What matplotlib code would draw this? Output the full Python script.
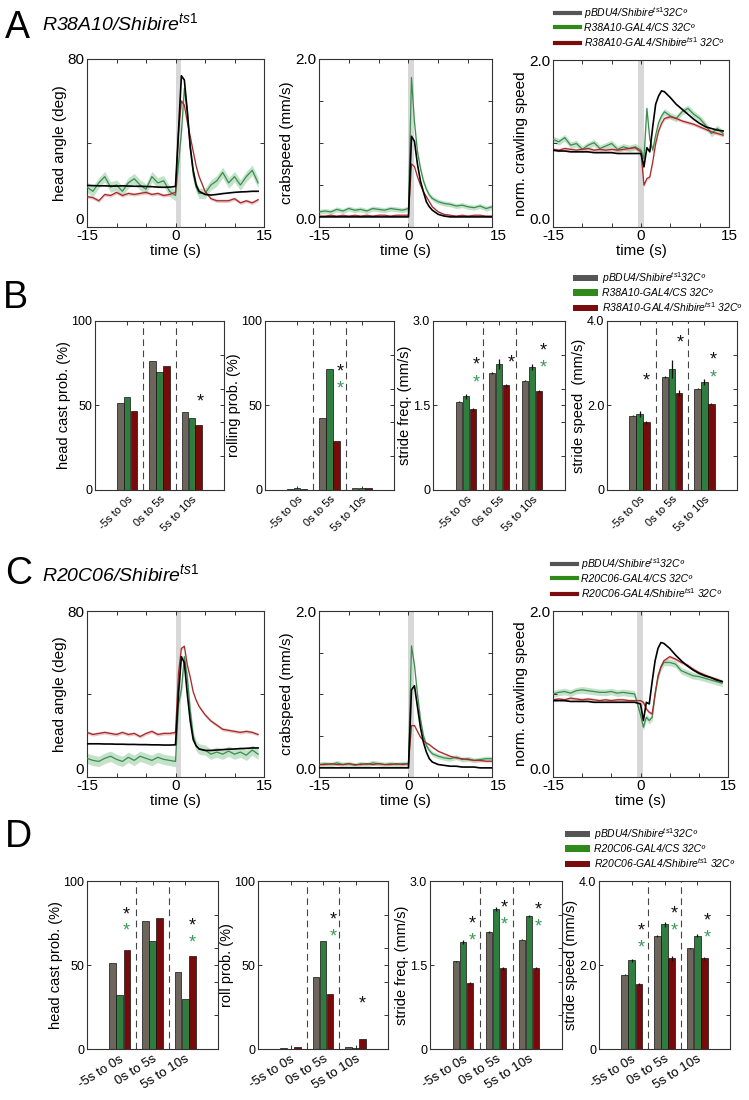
import matplotlib
matplotlib.use("Agg")
import matplotlib.pyplot as plt
from matplotlib.lines import Line2D
from matplotlib.patches import Patch
import numpy as np

plt.rcParams['font.family'] = ['Liberation Sans', 'DejaVu Sans']
plt.rcParams['mathtext.fontset'] = 'custom'
plt.rcParams['mathtext.rm'] = 'Liberation Sans'
plt.rcParams['mathtext.it'] = 'Liberation Sans:italic'
plt.rcParams['mathtext.sf'] = 'Liberation Sans'

# ---------------- data ----------------
T = [-15, -14, -13, -12, -11, -10, -9, -8, -7, -6, -5, -4, -3, -2, -1, 0,
     0.5, 1, 1.5, 2, 2.5, 3, 3.5, 4, 5, 6, 7, 8, 9, 10, 11, 12, 13, 14]

A_head_black = [19.8, 19.7, 19.6, 19.6, 19.5, 19.5, 19.6, 19.5, 19.4, 19.4, 19.3, 19.2, 19.0, 18.9, 19.0, 19.3,
                45, 72, 70, 55, 38, 27, 20, 17, 15.5, 15.2, 15.5, 15.9, 16.2, 16.5, 16.7, 16.8, 17.0, 17.0]
A_head_green = [19, 17, 21, 24, 19, 20, 17, 21, 23, 20, 18, 24, 21, 22, 17, 15,
                30, 45, 66, 55, 38, 25, 19, 16, 16, 20, 22, 26, 21, 24, 20, 24, 27, 21]
A_head_red = [14.5, 14, 12.5, 15.5, 15, 16.5, 15, 16, 15.5, 16, 16.5, 15.5, 16, 15, 15.5, 16.5,
              45, 60, 58, 50, 43, 36, 29, 24, 17, 13.5, 12.5, 12.5, 12.5, 13.5, 11.5, 12.5, 11.5, 13]

A_crab_black = [0.12] * 16 + [1.08, 1.02, 0.75, 0.55, 0.42, 0.30, 0.24, 0.20,
                              0.15, 0.13, 0.12, 0.12, 0.12, 0.12, 0.12, 0.12, 0.12, 0.12]
A_crab_green = [0.18, 0.19, 0.18, 0.21, 0.19, 0.22, 0.20, 0.21, 0.19, 0.22, 0.21, 0.20, 0.22, 0.21, 0.20, 0.22,
                1.78, 1.25, 0.90, 0.70, 0.55, 0.45, 0.38, 0.34, 0.30, 0.28, 0.27, 0.25, 0.26, 0.24, 0.23, 0.25, 0.22, 0.24]
A_crab_red = [0.13, 0.13, 0.14, 0.13, 0.14, 0.13, 0.14, 0.13, 0.14, 0.13, 0.14, 0.14, 0.13, 0.14, 0.14, 0.14,
              0.75, 0.72, 0.60, 0.50, 0.42, 0.36, 0.30, 0.24, 0.18, 0.15, 0.14, 0.13, 0.14, 0.13, 0.14, 0.14, 0.13, 0.13]

A_crawl_black = [0.92, 0.91, 0.91, 0.90, 0.90, 0.90, 0.90, 0.89, 0.89, 0.89, 0.89, 0.88, 0.88, 0.88, 0.88, 0.88,
                 0.72, 0.95, 0.90, 1.20, 1.47, 1.57, 1.63, 1.62, 1.55, 1.47, 1.41, 1.35, 1.29, 1.24, 1.20, 1.18, 1.16, 1.15]
A_crawl_green = [1.05, 1.02, 1.07, 0.98, 1.00, 0.93, 0.98, 1.01, 0.94, 0.97, 1.00, 0.93, 0.96, 0.94, 0.96, 0.92,
                 0.82, 1.42, 1.05, 0.92, 1.10, 1.25, 1.33, 1.38, 1.33, 1.30, 1.38, 1.42, 1.35, 1.30, 1.22, 1.12, 1.18, 1.12]
A_crawl_red = [0.93, 0.92, 0.94, 0.93, 0.92, 0.93, 0.94, 0.92, 0.93, 0.92, 0.93, 0.92, 0.93, 0.94, 0.95, 0.90,
               0.50, 0.58, 0.60, 0.78, 1.00, 1.15, 1.24, 1.30, 1.32, 1.30, 1.27, 1.25, 1.23, 1.20, 1.17, 1.14, 1.12, 1.10]

C_head_black = [16, 16, 16, 15.9, 15.9, 15.8, 15.8, 15.7, 15.7, 15.6, 15.6, 15.5, 15.5, 15.4, 15.4, 15.5,
                40, 58, 55, 40, 27, 18, 15, 13.5, 12.8, 12.8, 13, 13.2, 13.4, 13.5, 13.7, 13.8, 14, 14]
C_head_green = [9, 8, 7.5, 9, 10, 8.5, 7.5, 9.5, 8, 10, 9, 8, 9.5, 8.5, 8, 7.5,
                35, 42, 58, 48, 32, 20, 15, 13.5, 13, 11, 12, 11, 12.5, 11, 12, 10.5, 13, 11]
C_head_red = [21.5, 20.5, 21, 21.5, 21, 20.5, 21.5, 20.5, 21, 19.5, 21, 22, 20.5, 21, 21, 21.5,
              50, 62, 63, 54, 48, 41, 37, 34, 30, 27, 25, 23, 22.5, 22, 21.5, 22, 21.5, 20.5]

C_crab_black = [0.11] * 16 + [1.05, 1.10, 0.85, 0.60, 0.42, 0.30, 0.22, 0.18,
                              0.15, 0.14, 0.13, 0.13, 0.12, 0.12, 0.12, 0.11, 0.11, 0.11]
C_crab_green = [0.15, 0.16, 0.15, 0.17, 0.15, 0.16, 0.14, 0.16, 0.15, 0.17, 0.16, 0.15, 0.16, 0.15, 0.16, 0.16,
                1.58, 1.35, 1.00, 0.70, 0.50, 0.38, 0.32, 0.28, 0.25, 0.23, 0.22, 0.24, 0.21, 0.22, 0.20, 0.21, 0.22, 0.22]
C_crab_red = [0.15, 0.15, 0.16, 0.15, 0.15, 0.16, 0.15, 0.15, 0.16, 0.15, 0.16, 0.15, 0.15, 0.16, 0.15, 0.16,
              0.62, 0.62, 0.55, 0.48, 0.44, 0.41, 0.39, 0.36, 0.31, 0.28, 0.25, 0.23, 0.22, 0.21, 0.20, 0.20, 0.19, 0.19]

C_crawl_black = [0.92, 0.92, 0.92, 0.91, 0.91, 0.91, 0.91, 0.90, 0.90, 0.90, 0.90, 0.90, 0.90, 0.90, 0.90, 0.88,
                 0.68, 0.90, 0.88, 1.15, 1.40, 1.55, 1.62, 1.61, 1.55, 1.47, 1.40, 1.34, 1.29, 1.25, 1.22, 1.20, 1.17, 1.15]
C_crawl_green = [1.00, 1.02, 1.03, 1.01, 1.04, 1.05, 1.04, 1.03, 1.02, 1.02, 1.03, 1.01, 1.02, 1.01, 1.00, 0.75,
                 0.60, 0.72, 0.68, 0.72, 1.00, 1.20, 1.32, 1.38, 1.38, 1.36, 1.28, 1.25, 1.22, 1.21, 1.19, 1.17, 1.15, 1.13]
C_crawl_red = [0.93, 0.94, 0.93, 0.95, 0.94, 0.93, 0.94, 0.93, 0.92, 0.93, 0.92, 0.93, 0.93, 0.92, 0.92, 0.92,
               0.90, 0.82, 0.78, 0.76, 1.00, 1.22, 1.33, 1.40, 1.45, 1.42, 1.38, 1.35, 1.30, 1.26, 1.23, 1.20, 1.18, 1.15]

# standard-error half widths (shaded bands)
SEM_head = {'green': 2.5, 'red': 0.8}
SEM_crab = {'green': 0.03, 'red': 0.012}
SEM_crawl = {'green': 0.04, 'red': 0.02}

WINDOWS = ['-5s to 0s', '0s to 5s', '5s to 10s']

B_head = {'grey': [51.3, 76.3, 46.0], 'green': [54.8, 70.0, 42.4], 'red': [46.7, 73.4, 38.5]}
B_roll = {'grey': [0.5, 42.8, 1.0], 'green': [1.0, 71.4, 1.2], 'red': [0.8, 29.2, 1.3]}
B_freq = {'grey': [1.57, 2.08, 1.94], 'green': [1.66, 2.24, 2.18], 'red': [1.43, 1.86, 1.76]}
B_freq_err = {'grey': [0.01, 0.02, 0.01], 'green': [0.05, 0.09, 0.05], 'red': [0.02, 0.03, 0.02]}
B_speed = {'grey': [1.76, 2.68, 2.40], 'green': [1.80, 2.86, 2.56], 'red': [1.60, 2.30, 2.04]}
B_speed_err = {'grey': [0.02, 0.02, 0.02], 'green': [0.08, 0.22, 0.07], 'red': [0.03, 0.07, 0.02]}

D_head = {'grey': [51.0, 76.2, 46.1], 'green': [32.3, 64.0, 29.9], 'red': [59.0, 77.8, 55.4]}
D_roll = {'grey': [0.3, 42.8, 1.0], 'green': [0.0, 64.0, 0.7], 'red': [1.0, 32.9, 6.1]}
D_freq = {'grey': [1.57, 2.09, 1.95], 'green': [1.91, 2.50, 2.38], 'red': [1.18, 1.44, 1.44]}
D_freq_err = {'grey': [0.01, 0.01, 0.01], 'green': [0.03, 0.04, 0.02], 'red': [0.02, 0.03, 0.02]}
D_speed = {'grey': [1.77, 2.69, 2.40], 'green': [2.11, 2.97, 2.70], 'red': [1.55, 2.16, 2.16]}
D_speed_err = {'grey': [0.01, 0.02, 0.01], 'green': [0.04, 0.06, 0.03], 'red': [0.02, 0.06, 0.03]}

# significance stars (x, y, colour key)
B_head_stars = [(3.26, 52, 'k')]
B_roll_stars = [(2.33, 70, 'k'), (2.33, 60, 'g')]
B_freq_stars = [(1.30, 2.22, 'k'), (1.30, 1.90, 'g'), (2.38, 2.25, 'k'), (3.34, 2.47, 'k'), (3.34, 2.16, 'g')]
B_speed_stars = [(1.21, 2.58, 'k'), (2.24, 3.47, 'k'), (3.27, 3.08, 'k'), (3.27, 2.65, 'g')]
D_head_stars = [(1.20, 80, 'k'), (1.20, 70, 'g'), (3.20, 73, 'k'), (3.20, 63, 'g')]
D_roll_stars = [(2.31, 76.8, 'k'), (2.31, 66.5, 'g'), (3.22, 26.7, 'k')]
D_freq_stars = [(1.29, 2.23, 'k'), (1.29, 1.93, 'g'), (2.26, 2.51, 'k'), (2.26, 2.21, 'g'),
                (3.29, 2.48, 'k'), (3.29, 2.17, 'g')]
D_speed_stars = [(1.30, 2.80, 'k'), (1.30, 2.40, 'g'), (2.29, 3.22, 'k'), (2.29, 2.82, 'g'),
                 (3.31, 3.05, 'k'), (3.31, 2.64, 'g')]

LEG_A = [r'pBDU4/Shibire$^{ts1}$32Cº', 'R38A10-GAL4/CS 32Cº', r'R38A10-GAL4/Shibire$^{ts1}$ 32Cº']
LEG_C = [r'pBDU4/Shibire$^{ts1}$32Cº', 'R20C06-GAL4/CS 32Cº', r'R20C06-GAL4/Shibire$^{ts1}$ 32Cº']

# ---------------- styles ----------------
W, H = 749, 1100
LINE_COL = {'black': '#000000', 'green': '#3a8d4e', 'red': '#a32a2a'}
BAND_COL = {'green': '#9ccfa6', 'red': '#e0a0a0'}
BAR_COL = {'grey': '#6e655c', 'green': '#2f7d3f', 'red': '#7a0a0a'}
STAR_COL = {'k': '#111111', 'g': '#3a9a5a'}
LEG_COL = ['#555555', '#2f8a1a', '#7a0c0c']
SPINE = '#333333'

fig = plt.figure(figsize=(W / 100, H / 100), dpi=100)


def add_ax(l, t, r, b):
    return fig.add_axes([l / W, 1 - b / H, (r - l) / W, (b - t) / H])


def style_ax(ax, fs):
    for s in ax.spines.values():
        s.set_color(SPINE)
        s.set_linewidth(0.8)
    ax.tick_params(which='both', direction='in', top=True, right=True, length=3,
                   width=0.7, color=SPINE, labelsize=fs, pad=2)


def line_panel(box, series, sems, ylim, ylab_ticks, yminor, ylabel, shade, xlim=(-15, 15)):
    ax = add_ax(*box)
    ax.axvspan(shade[0], shade[1], color='#d8d8d8', lw=0, zorder=0)
    order = ['green', 'red', 'black']
    for key in order:
        y = np.array(series[key])
        if key in sems:
            ax.fill_between(T, y - sems[key], y + sems[key], color=BAND_COL[key], alpha=0.6, lw=0, zorder=1)
    for key in order:
        lw = 1.2 if key == 'black' else 0.9
        ax.plot(T, series[key], color=LINE_COL[key], lw=lw, zorder=3)
    ax.set_xlim(*xlim)
    ax.set_ylim(*ylim)
    xt = [v for v in [-15, 0, 15] if xlim[0] <= v <= xlim[1]]
    ax.set_xticks(xt)
    ax.set_xticklabels([str(v) for v in xt])
    ax.set_xticks([v for v in [-10, -5, 5, 10] if xlim[0] <= v <= xlim[1]], minor=True)
    ax.set_yticks([v for v, _ in ylab_ticks])
    ax.set_yticklabels([s for _, s in ylab_ticks])
    ax.set_yticks(yminor, minor=True)
    style_ax(ax, 11)
    ax.tick_params(axis='x', pad=1.5)
    ax.get_yticklabels()[0].set_verticalalignment('bottom')
    if xlim[1] < 15:
        ax.text(15, -0.012, '15', transform=ax.get_xaxis_transform(), ha='center', va='top', fontsize=11)
    ax.set_xlabel('time (s)', fontsize=11, labelpad=1)
    ax.set_ylabel(ylabel, fontsize=11, labelpad=0.5)
    return ax


def bar_panel(box, vals, ylim, ylab_ticks, yminor, ylabel, stars, errs=None, rot=45, xfs=8):
    ax = add_ax(*box)
    x = np.array([1, 2, 3])
    offs = {'grey': -0.215, 'green': 0.0, 'red': 0.215}
    for key in ['grey', 'green', 'red']:
        kw = {}
        if errs is not None:
            kw = dict(yerr=errs[key], error_kw=dict(ecolor='#111111', elinewidth=0.9, capsize=0))
        ax.bar(x + offs[key], vals[key], width=0.2, color=BAR_COL[key], edgecolor='#111111',
               linewidth=0.5, zorder=2, **kw)
    for xv in [1.5, 2.5]:
        ax.axvline(xv, color='#444444', lw=0.8, dashes=(6, 4), zorder=1)
    for sx, sy, c in stars:
        ax.text(sx, sy, '*', color=STAR_COL[c], fontsize=13, ha='center', va='center', zorder=4)
    ax.set_xlim(0, 4)
    ax.set_ylim(*ylim)
    ax.set_xticks(x)
    ax.set_xticklabels(WINDOWS, rotation=rot, ha='right', rotation_mode='anchor')
    ax.set_yticks([v for v, _ in ylab_ticks])
    ax.set_yticklabels([s for _, s in ylab_ticks])
    ax.set_yticks(yminor, minor=True)
    style_ax(ax, 9)
    ax.tick_params(which='minor', left=False, right=True)
    ax.tick_params(axis='x', pad=3, labelsize=xfs)
    ax.set_ylabel(ylabel, fontsize=10.5, labelpad=0.5)
    return ax


def legend(x, y, labels, patches=False):
    if patches:
        handles = [Patch(facecolor=c, edgecolor='none') for c in LEG_COL]
        hh = 0.6
    else:
        handles = [Line2D([], [], color=c, lw=3) for c in LEG_COL]
        hh = 0.7
    fig.legend(handles, labels, loc='upper left', bbox_to_anchor=(x / W, 1 - y / H),
               frameon=False, prop={'style': 'italic', 'size': 7.5}, handlelength=2.4,
               handleheight=hh, handletextpad=0.4, labelspacing=0.2, borderpad=0, borderaxespad=0)


# ---------------- panel A ----------------
fig.text(5 / W, 1 - 38 / H, 'A', fontsize=27, va='baseline')
fig.text(42 / W, 1 - 30 / H, r'R38A10/Shibire$^{ts1}$', fontsize=14, style='italic', va='baseline')
line_panel((87, 59, 264, 227), {'black': A_head_black, 'green': A_head_green, 'red': A_head_red},
           SEM_head, (0, 80), [(0, '0'), (80, '80')], [40], 'head angle (deg)', (0, 1))
line_panel((319, 59, 492, 227), {'black': A_crab_black, 'green': A_crab_green, 'red': A_crab_red},
           SEM_crab, (0, 2), [(0, '0.0'), (2, '2.0')], [0.5, 1.0, 1.5], 'crabspeed (mm/s)', (0, 1),
           xlim=(-15, 14))
line_panel((553, 60, 729, 227), {'black': A_crawl_black, 'green': A_crawl_green, 'red': A_crawl_red},
           SEM_crawl, (0, 2), [(0, '0.0'), (2, '2.0')], [1.0], 'norm. crawling speed', (-0.55, 0.45))
legend(555, 5, LEG_A)

# ---------------- panel B ----------------
fig.text(3 / W, 1 - 308 / H, 'B', fontsize=27, va='baseline')
bar_panel((95, 321, 224, 490), B_head, (0, 100), [(0, '0'), (50, '50'), (100, '100')],
          [20, 40, 60, 80], 'head cast prob. (%)', B_head_stars)
bar_panel((265, 321, 394, 490), B_roll, (0, 100), [(0, '0'), (50, '50'), (100, '100')],
          [20, 40, 60, 80], 'rolling prob. (%)', B_roll_stars)
bar_panel((433, 321, 565, 490), B_freq, (0, 3), [(0, '0'), (1.5, '1.5'), (3, '3.0')],
          [0.6, 1.2, 1.8, 2.4], 'stride freq. (mm/s)', B_freq_stars, B_freq_err)
bar_panel((607, 321, 737, 490), B_speed, (0, 4), [(0, '0'), (2, '2.0'), (4, '4.0')],
          [0.8, 1.6, 2.4, 3.2], 'stride speed  (mm/s)', B_speed_stars, B_speed_err)
legend(573, 270, LEG_A, patches=True)

# ---------------- panel C ----------------
fig.text(5 / W, 1 - 584 / H, 'C', fontsize=27, va='baseline')
fig.text(42 / W, 1 - 581 / H, r'R20C06/Shibire$^{ts1}$', fontsize=14, style='italic', va='baseline')
line_panel((87, 611, 264, 777), {'black': C_head_black, 'green': C_head_green, 'red': C_head_red},
           SEM_head, (0, 80), [(0, '0'), (80, '80')], [40], 'head angle (deg)', (0, 1))
line_panel((319, 611, 492, 777), {'black': C_crab_black, 'green': C_crab_green, 'red': C_crab_red},
           SEM_crab, (0, 2), [(0, '0.0'), (2, '2.0')], [0.5, 1.0, 1.5], 'crabspeed (mm/s)', (0, 1),
           xlim=(-15, 14))
line_panel((553, 611, 728, 777), {'black': C_crawl_black, 'green': C_crawl_green, 'red': C_crawl_red},
           SEM_crawl, (0, 2), [(0, '0.0'), (2, '2.0')], [1.0], 'norm. crawling speed', (-0.55, 0.45))
legend(552, 556, LEG_C)

# ---------------- panel D ----------------
fig.text(5 / W, 1 - 847 / H, 'D', fontsize=27, va='baseline')
bar_panel((87, 881, 218, 1049), D_head, (0, 100), [(0, '0'), (50, '50'), (100, '100')],
          [20, 40, 60, 80], 'head cast prob. (%)', D_head_stars, rot=32, xfs=9.5)
bar_panel((258, 881, 388, 1049), D_roll, (0, 100), [(0, '0'), (50, '50'), (100, '100')],
          [20, 40, 60, 80], 'roll prob. (%)', D_roll_stars, rot=32, xfs=9.5)
bar_panel((430, 881, 562, 1049), D_freq, (0, 3), [(0, '0'), (1.5, '1.5'), (3, '3.0')],
          [0.6, 1.2, 1.8, 2.4], 'stride freq. (mm/s)', D_freq_stars, D_freq_err, rot=32, xfs=9.5)
bar_panel((599, 881, 730, 1049), D_speed, (0, 4), [(0, '0'), (2, '2.0'), (4, '4.0')],
          [0.8, 1.6, 2.4, 3.2], 'stride speed (mm/s)', D_speed_stars, D_speed_err, rot=32, xfs=9.5)
legend(565, 826, LEG_C, patches=True)

fig.savefig('out.png', dpi=100)
